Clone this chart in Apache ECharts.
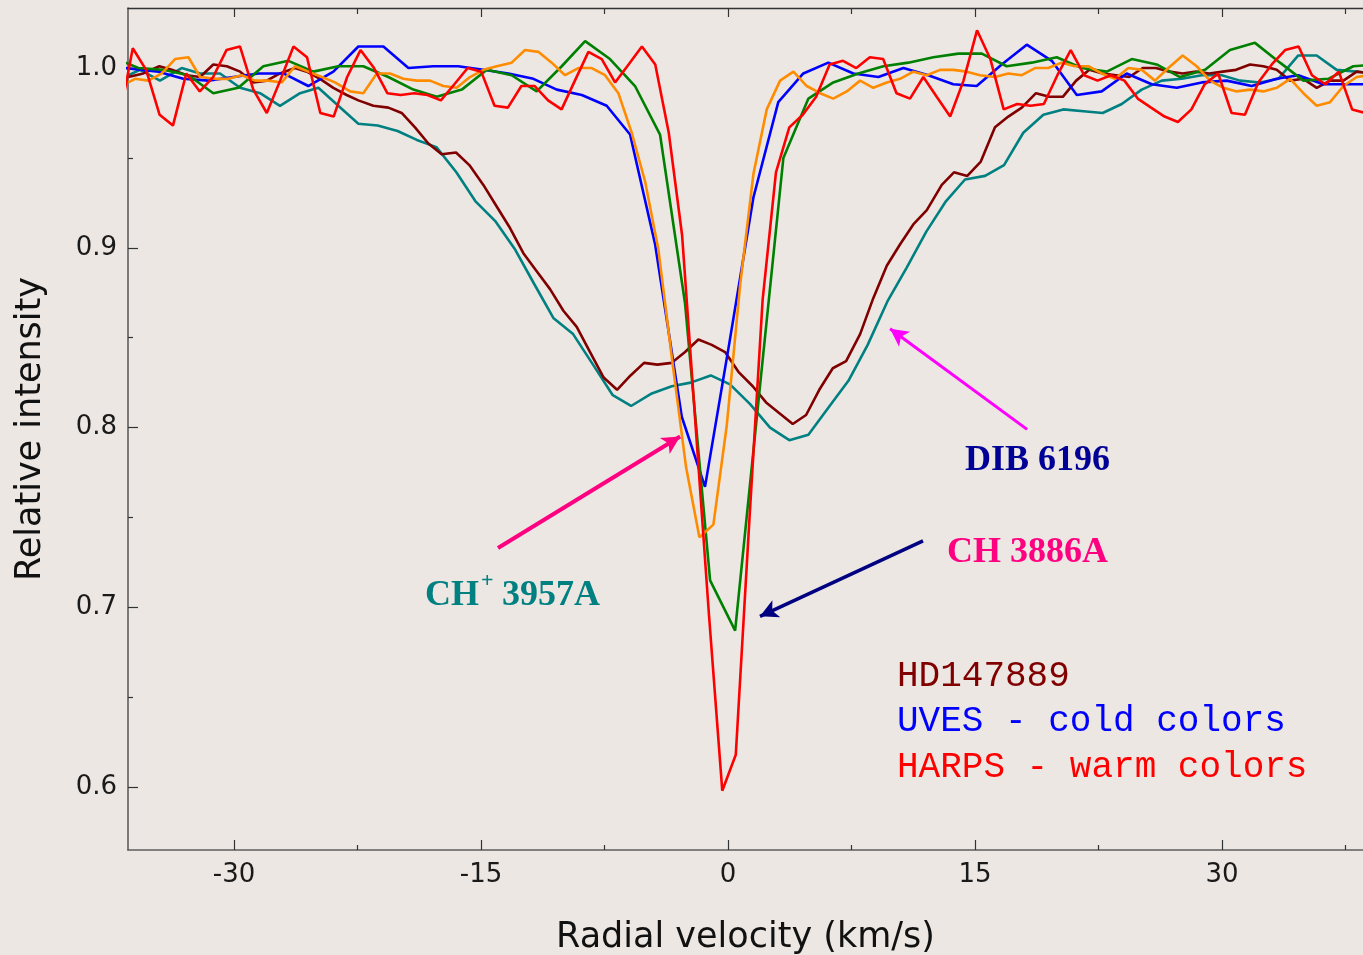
<!DOCTYPE html>
<html>
<head>
<meta charset="utf-8">
<script src="https://cdn.jsdelivr.net/npm/echarts@6/dist/echarts.min.js"></script>
<style>
  html, body { margin: 0; padding: 0; background: #ece7e3; }
  #chart { width: 1363px; height: 955px; }
</style>
</head>
<body>
<div id="chart"></div>
<script>
// ---------- tick labels ----------
const xMajorTicks = [-30, -15, 0, 15, 30];
const xMinorTicks = [-22.5, -7.5, 7.5, 22.5, 37.5];
const yMajorTicks = [0.6, 0.7, 0.8, 0.9, 1.0];
const yMinorTicks = [0.65, 0.75, 0.85, 0.95];

// ---------- HARPS (warm colours) ----------
// red : CH 3886A
const redV = [-36.96,-36.15,-35.34,-34.52,-33.71,-32.90,-32.08,-31.27,-30.46,-29.64,-28.83,-28.01,-27.20,-26.39,-25.57,-24.76,-23.95,-23.13,-22.32,-21.50,-20.69,-19.88,-19.06,-18.25,-17.44,-16.62,-15.81,-14.99,-14.18,-13.37,-12.55,-11.74,-10.93,-10.11,-9.30,-8.48,-7.67,-6.86,-6.04,-5.23,-4.42,-3.60,-2.79,-1.97,-1.16,-0.35,0.47,1.28,2.10,2.91,3.72,4.54,5.35,6.17,6.98,7.79,8.61,9.42,10.23,11.05,11.86,12.67,13.49,14.30,15.12,15.93,16.74,17.56,18.37,19.18,20.00,20.81,21.63,22.44,23.25,24.07,24.88,25.69,26.51,27.32,28.14,28.95,29.76,30.58,31.39,32.20,33.02,33.83,34.65,35.46,36.27,37.09,37.90,38.71];
const redI = [0.972,1.011,0.999,0.974,0.968,0.997,0.987,0.995,1.010,1.012,0.988,0.975,0.993,1.012,1.006,0.975,0.973,0.995,1.010,1.000,0.986,0.985,0.986,0.985,0.982,0.991,1.000,0.998,0.979,0.978,0.990,0.990,0.982,0.977,0.993,1.009,1.005,0.992,1.002,1.012,1.002,0.964,0.907,0.801,0.696,0.598,0.618,0.746,0.871,0.942,0.967,0.974,0.984,1.002,1.004,1.000,1.006,1.005,0.986,0.983,0.995,0.984,0.973,0.993,1.021,1.005,0.977,0.980,0.979,0.980,0.996,1.010,0.996,0.993,0.996,0.993,0.983,0.978,0.973,0.970,0.977,0.991,0.997,0.975,0.974,0.992,1.002,1.010,1.012,0.996,0.991,0.998,0.977,0.975];

// orange : CH+ 3957A
const orangeV = [-36.42,-36.01,-35.20,-34.39,-33.58,-32.77,-32.06,-31.15,-30.35,-29.53,-28.73,-27.92,-27.10,-26.30,-25.49,-24.67,-23.87,-22.95,-22.15,-21.33,-20.53,-19.72,-18.90,-18.10,-17.29,-16.48,-15.67,-14.86,-14.05,-13.14,-12.33,-11.52,-10.71,-9.90,-9.09,-8.28,-7.47,-6.66,-5.85,-5.04,-4.23,-3.40,-2.55,-1.74,-0.89,-0.08,0.73,1.54,2.35,3.16,3.97,4.78,5.59,6.39,7.21,8.02,8.82,9.64,10.45,11.25,12.07,12.87,13.68,14.50,15.30,16.21,17.02,17.84,18.64,19.45,20.26,21.07,21.88,22.69,23.50,24.31,25.12,25.93,26.74,27.61,28.46,29.27,30.08,30.89,31.70,32.51,33.32,34.13,34.94,35.75,36.56,37.37,38.18,38.99];
const orangeI = [0.992,0.994,0.993,0.997,1.005,1.006,0.995,0.994,0.994,0.996,0.993,0.993,0.992,1.001,0.998,0.995,0.992,0.987,0.986,0.997,0.997,0.994,0.993,0.993,0.990,0.989,0.995,0.999,1.001,1.003,1.010,1.009,1.003,0.996,1.000,1.000,0.996,0.986,0.964,0.937,0.899,0.838,0.778,0.739,0.746,0.801,0.879,0.941,0.977,0.993,0.998,0.990,0.986,0.983,0.987,0.993,0.989,0.992,0.994,0.998,0.996,0.999,0.999,0.998,0.996,0.995,0.997,0.996,1.000,1.000,1.003,1.001,1.001,0.997,0.994,1.000,0.999,0.993,1.000,1.007,1.001,0.993,0.989,0.987,0.988,0.987,0.989,0.994,0.986,0.979,0.981,0.990,0.995,0.996];

// maroon : DIB 6196
const maroonV = [-36.42,-35.51,-34.54,-33.78,-32.87,-32.06,-31.26,-30.44,-29.63,-28.83,-28.01,-27.21,-26.30,-25.58,-24.78,-23.97,-23.16,-22.45,-21.54,-20.63,-19.82,-19.01,-18.20,-17.39,-16.52,-15.71,-14.86,-14.05,-13.24,-12.43,-11.62,-10.81,-10.00,-9.19,-8.38,-7.57,-6.74,-5.92,-5.10,-4.29,-3.42,-2.61,-1.80,-0.99,-0.18,0.63,1.50,2.31,3.12,3.93,4.74,5.54,6.36,7.17,8.02,8.82,9.64,10.45,11.25,12.07,12.98,13.72,14.53,15.35,16.21,17.02,17.84,18.70,19.51,20.33,21.14,21.94,22.75,23.56,24.37,25.18,25.99,26.80,27.61,28.42,29.23,30.04,30.85,31.70,32.51,33.32,34.13,34.94,35.75,36.56,37.37,38.18,38.99];
const maroonI = [0.995,0.997,1.001,0.999,0.996,0.995,1.002,1.001,0.998,0.992,0.993,0.997,1.000,0.998,0.994,0.989,0.985,0.982,0.979,0.978,0.975,0.967,0.958,0.952,0.953,0.946,0.935,0.923,0.911,0.897,0.887,0.877,0.865,0.856,0.842,0.828,0.821,0.829,0.836,0.835,0.836,0.842,0.849,0.846,0.842,0.831,0.823,0.814,0.808,0.802,0.807,0.821,0.833,0.837,0.852,0.872,0.890,0.902,0.913,0.921,0.935,0.942,0.940,0.948,0.967,0.973,0.978,0.986,0.984,0.984,0.993,0.999,0.997,0.996,0.995,1.000,1.000,0.998,0.997,0.998,0.997,0.998,0.999,1.002,1.001,0.999,0.993,0.994,0.989,0.993,0.993,0.998,0.997];

// ---------- UVES (cold colours) ----------
// green : CH 3886A
const greenV = [-36.60,-35.81,-34.29,-32.77,-31.26,-29.74,-28.22,-26.70,-25.18,-23.67,-22.15,-20.63,-19.11,-17.69,-16.17,-14.65,-13.14,-11.62,-10.10,-8.68,-7.17,-5.65,-4.13,-2.61,-1.09,0.43,1.94,3.36,4.88,6.39,7.91,9.43,10.95,12.47,13.99,15.41,16.92,18.44,19.96,21.48,23.00,24.52,26.03,27.45,28.97,30.48,32.00,33.52,34.94,36.45,37.97,39.47];
const greenI = [1.003,1.000,0.999,0.996,0.986,0.989,1.001,1.004,0.998,1.001,1.001,0.995,0.988,0.984,0.988,0.999,0.996,0.987,1.001,1.015,1.005,0.990,0.963,0.869,0.715,0.687,0.823,0.950,0.983,0.992,0.997,1.001,1.003,1.006,1.008,1.008,1.001,1.003,1.006,1.000,0.998,1.005,1.002,0.995,0.999,1.010,1.014,1.003,0.993,0.994,1.001,1.002];

// blue : CH+ 3957A
const blueV = [-36.60,-34.59,-33.08,-31.56,-30.04,-28.52,-27.00,-25.49,-23.97,-22.45,-20.93,-19.41,-17.90,-16.38,-14.86,-13.34,-11.82,-10.40,-8.88,-7.37,-5.95,-4.43,-2.81,-1.40,0.06,1.54,3.05,4.57,6.09,7.61,9.13,10.65,12.16,13.68,15.10,16.62,18.14,19.66,21.18,22.69,24.21,25.73,27.25,28.77,30.28,31.80,33.32,34.63,36.15,37.67,39.17];
const blueI = [1.000,0.998,0.994,0.993,0.995,0.997,0.997,0.990,0.998,1.012,1.012,1.000,1.001,1.001,0.999,0.997,0.994,0.988,0.985,0.979,0.963,0.902,0.806,0.767,0.846,0.928,0.981,0.997,1.003,0.997,0.995,1.000,0.996,0.991,0.990,1.002,1.013,1.004,0.985,0.987,0.997,0.991,0.989,0.992,0.993,0.990,0.994,0.996,0.991,0.991,0.991];

// teal : DIB 6196
const tealV = [-36.42,-35.71,-34.50,-33.18,-32.06,-30.85,-29.63,-28.42,-27.21,-25.99,-24.88,-23.67,-22.45,-21.28,-20.07,-18.90,-17.71,-16.50,-15.35,-14.15,-12.93,-11.78,-10.61,-9.41,-8.20,-7.00,-5.89,-4.63,-3.42,-2.27,-1.05,0.12,1.34,2.55,3.72,4.88,6.09,7.31,8.48,9.67,10.85,12.04,13.24,14.39,15.61,16.76,17.93,19.15,20.36,21.58,22.75,23.91,25.12,26.34,27.55,28.77,29.98,31.09,32.31,33.42,34.63,35.75,36.96,38.18,39.35];
const tealI = [0.996,0.999,0.993,1.000,0.997,0.997,0.989,0.986,0.979,0.986,0.989,0.979,0.969,0.968,0.965,0.960,0.956,0.942,0.926,0.915,0.899,0.880,0.861,0.852,0.835,0.818,0.812,0.819,0.823,0.825,0.829,0.824,0.813,0.800,0.793,0.796,0.811,0.826,0.846,0.870,0.889,0.909,0.926,0.938,0.940,0.946,0.964,0.974,0.977,0.976,0.975,0.980,0.988,0.993,0.994,0.996,0.996,0.993,0.992,0.994,1.007,1.007,0.999,0.998,0.997];

// ---------- annotation arrows (data coordinates) ----------
const arrowCHplus = [[-13.97, 0.733], [-2.91, 0.795]];
const arrowCH     = [[11.84, 0.737], [1.94, 0.695]];
const arrowDIB    = [[18.16, 0.799], [9.84, 0.855]];

const XMIN = -36.44, XMAX = 38.56, YMIN = 0.565, YMAX = 1.0334;

const pair = (xs, ys) => xs.map((x, i) => [x, ys[i]]);
const axisCol = '#5f5f5f';
const tickFont = { fontFamily: 'DejaVu Sans', fontSize: 26, color: '#1a1a1a' };

function xAx(pos, ticks, len, opts) {
  return Object.assign({
    type: 'value', min: XMIN, max: XMAX, position: pos, gridIndex: 0,
    axisLine: { show: false, onZero: false },
    axisTick: { show: true, inside: true, length: len, customValues: ticks, lineStyle: { color: '#333', width: 1.2 } },
    axisLabel: { show: false },
    splitLine: { show: false }
  }, opts || {});
}
function yAx(ticks, len, opts) {
  return Object.assign({
    type: 'value', min: YMIN, max: YMAX, position: 'left', gridIndex: 0,
    axisLine: { show: false, onZero: false },
    axisTick: { show: true, inside: true, length: len, customValues: ticks, lineStyle: { color: '#333', width: 1.2 } },
    axisLabel: { show: false },
    splitLine: { show: false }
  }, opts || {});
}

function line(name, xs, ys, color, extra) {
  return Object.assign({
    name, type: 'line', xAxisIndex: 0, yAxisIndex: 0,
    data: pair(xs, ys), showSymbol: false, symbol: 'none',
    lineStyle: { color, width: 2.6 }, itemStyle: { color },
    clip: true, silent: true, animation: false
  }, extra || {});
}

const serifBold = 'bold 36px "Liberation Serif", "Times New Roman", serif';
const mono = '36px "Liberation Mono", "Courier New", monospace';

const chart = echarts.init(document.getElementById('chart'), null, { renderer: 'canvas' });
chart.setOption({
  backgroundColor: '#ece7e3',
  animation: false,
  grid: { left: 128, right: 0, top: 8, bottom: 105, containLabel: false, outerBoundsMode: 'none' },
  xAxis: [
    xAx('bottom', xMajorTicks, 10, {
      axisLine: { show: true, onZero: false, lineStyle: { color: axisCol, width: 1.6 } },
      axisLabel: Object.assign({ show: true, customValues: xMajorTicks, margin: 12 }, tickFont),
      name: 'Radial velocity (km/s)', nameLocation: 'middle', nameGap: 70,
      nameTextStyle: { fontFamily: 'DejaVu Sans', fontSize: 35, color: '#111' }
    }),
    xAx('bottom', xMinorTicks, 5),
    xAx('top', xMajorTicks, 9, { axisLine: { show: true, onZero: false, lineStyle: { color: '#333', width: 1.4 } } }),
    xAx('top', xMinorTicks, 6)
  ],
  yAxis: [
    yAx(yMajorTicks, 10, {
      axisLine: { show: true, onZero: false, lineStyle: { color: axisCol, width: 1.6 } },
      axisLabel: Object.assign({ show: true, customValues: yMajorTicks, margin: 11, formatter: v => v.toFixed(1) }, tickFont),
      name: 'Relative intensity', nameLocation: 'middle', nameGap: 80, nameRotate: 90,
      nameTextStyle: { fontFamily: 'DejaVu Sans', fontSize: 35, color: '#111' }
    }),
    yAx(yMinorTicks, 5)
  ],
  series: [
    line('UVES DIB 6196', tealV, tealI, '#008080', {
      markLine: {
        silent: true, animation: false,
        symbol: ['none', 'arrow'], symbolSize: [14, 18],
        label: { show: false },
        data: [
          [{ coord: arrowCHplus[0], lineStyle: { color: '#ff0080', width: 4, type: 'solid' } }, { coord: arrowCHplus[1] }],
          [{ coord: arrowCH[0], lineStyle: { color: '#000080', width: 3.5, type: 'solid' } }, { coord: arrowCH[1] }],
          [{ coord: arrowDIB[0], lineStyle: { color: '#ff00ff', width: 3, type: 'solid' } }, { coord: arrowDIB[1] }]
        ]
      }
    }),
    line('HARPS DIB 6196', maroonV, maroonI, '#800000'),
    line('UVES CH+', blueV, blueI, '#0000ff'),
    line('UVES CH', greenV, greenI, '#008000'),
    line('HARPS CH+', orangeV, orangeI, '#ff8c00'),
    line('HARPS CH', redV, redI, '#ff0000')
  ],
  graphic: { elements: [
    { type: 'text', x: 425, y: 596, style: { text: 'CH', font: serifBold, fill: '#008080', verticalAlign: 'middle' } },
    { type: 'text', x: 481, y: 581, style: { text: '+', font: 'bold 22px "Liberation Serif", serif', fill: '#008080', verticalAlign: 'middle' } },
    { type: 'text', x: 502, y: 596, style: { text: '3957A', font: serifBold, fill: '#008080', verticalAlign: 'middle' } },
    { type: 'text', x: 965, y: 461, style: { text: 'DIB 6196', font: serifBold, fill: '#000096', verticalAlign: 'middle' } },
    { type: 'text', x: 947, y: 553, style: { text: 'CH 3886A', font: serifBold, fill: '#ff0080', verticalAlign: 'middle' } },
    { type: 'text', x: 897, y: 676, style: { text: 'HD147889', font: mono, fill: '#800000', verticalAlign: 'middle' } },
    { type: 'text', x: 897, y: 721, style: { text: 'UVES - cold colors', font: mono, fill: '#0000ff', verticalAlign: 'middle' } },
    { type: 'text', x: 897, y: 767, style: { text: 'HARPS - warm colors', font: mono, fill: '#ff0000', verticalAlign: 'middle' } }
  ] }
});
</script>
</body>
</html>
